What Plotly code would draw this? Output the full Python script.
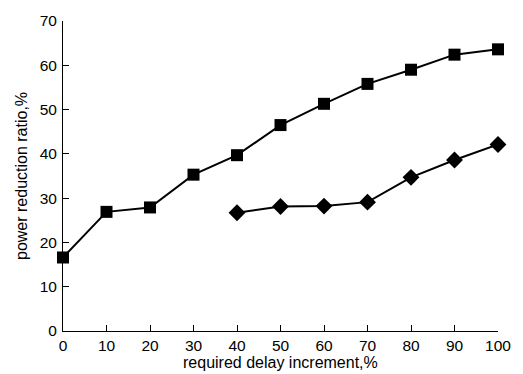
import plotly.graph_objects as go

x_sq = [0, 10, 20, 30, 40, 50, 60, 70, 80, 90, 100]
y_sq = [16.6, 26.9, 27.9, 35.3, 39.7, 46.5, 51.3, 55.8, 59.0, 62.4, 63.6]
x_di = [40, 50, 60, 70, 80, 90, 100]
y_di = [26.7, 28.1, 28.2, 29.1, 34.7, 38.6, 42.1]
x_ticks = [0, 10, 20, 30, 40, 50, 60, 70, 80, 90, 100]
y_ticks = [0, 10, 20, 30, 40, 50, 60, 70]
x_title = "required delay increment,%"
y_title = "power reduction ratio,%"

fig = go.Figure()
fig.add_trace(go.Scatter(x=x_sq, y=y_sq, mode="lines+markers",
                         line=dict(color="black", width=2),
                         marker=dict(symbol="square", size=12, color="black"),
                         showlegend=False, cliponaxis=False))
fig.add_trace(go.Scatter(x=x_di, y=y_di, mode="lines+markers",
                         line=dict(color="black", width=2),
                         marker=dict(symbol="diamond", size=13, color="black"),
                         showlegend=False, cliponaxis=False))

font = dict(family="Liberation Sans, Arial, sans-serif", size=16, color="black")
tfont = dict(family="Liberation Sans, Arial, sans-serif", size=15.5, color="black")
fig.update_layout(
    width=523, height=374,
    margin=dict(l=63, r=23, t=16, b=43),
    paper_bgcolor="white", plot_bgcolor="white",
    font=font,
    xaxis=dict(range=[0, 100], tickvals=x_ticks, ticks="inside", ticklen=6,
               showline=True, linecolor="black", linewidth=1, tickcolor="black",
               showgrid=False, zeroline=False, tickfont=tfont, ticklabelstandoff=0),
    yaxis=dict(range=[0, 70], tickvals=y_ticks, ticks="inside", ticklen=6,
               showline=True, linecolor="black", linewidth=1, tickcolor="black",
               showgrid=False, zeroline=False, tickfont=tfont, ticklabelstandoff=2),
)
fig.add_annotation(text=x_title, xref="paper", yref="paper", x=0.5, y=0,
                   yshift=-31, yanchor="middle", showarrow=False, font=font)
fig.add_annotation(text=y_title, xref="paper", yref="paper", x=0, y=0.5,
                   xshift=-42, xanchor="center", textangle=-90, showarrow=False, font=font)
fig.write_html("out.html", config={"displayModeBar": False},
               post_script="document.body.style.margin='0';document.body.style.overflow='hidden';")
